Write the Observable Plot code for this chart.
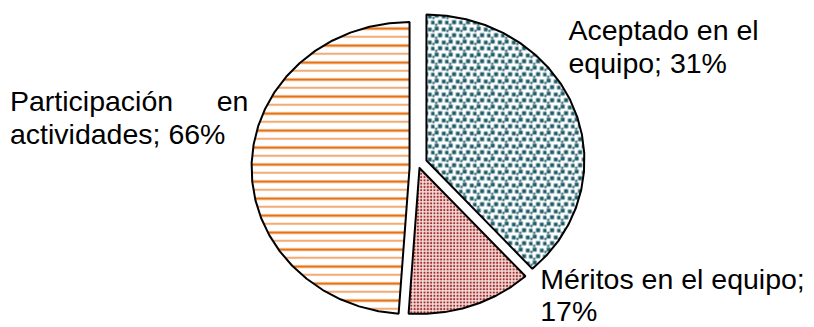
<!DOCTYPE html>
<html>
<head>
<meta charset="utf-8">
<script src="https://cdn.jsdelivr.net/npm/d3@7"></script>
<script src="https://cdn.jsdelivr.net/npm/@observablehq/plot@0.6"></script>
<style>
html, body { margin: 0; padding: 0; background: #fff; }
#chart svg { display: block; }
</style>
</head>
<body>
<div id="chart"></div>
<script>
// ---- data ----
const categories = ["Aceptado en el equipo", "Méritos en el equipo", "Participación en actividades"];
const labelPercents = [31, 17, 66];          // percentages printed in the labels
const sliceShares = [38.3, 12.8, 48.9];      // slice sizes as drawn (angle share)
const firstLineWords = [3, 4, 2];            // words on the first label line

// ---- layout / style ----
const W = 814, H = 327;
const cx = 419, cy = 167.5, rx = 158, ry = 146;          // pie centre and radii (px)
const explode = [[0.044, 0.051], [0, 0], [-0.063, 0]];   // per-slice offset, radius units
const labelAnchor = [[0.943, 0.654], [0.764, -1.051], [-2.592, 0.166]]; // radius units
const justifyWidth = [null, null, 238.5];
const fills = ["url(#pat-acept)", "url(#pat-meritos)", "url(#pat-partic)"];

const arcs = d3.pie().sort(null).value(d => d)(sliceShares);
const step = Math.PI / 24;
const outline = [];
arcs.forEach((a, i) => {
  const [ox, oy] = explode[i];
  const n = Math.max(2, Math.ceil((a.endAngle - a.startAngle) / step));
  outline.push({slice: i, x: ox, y: oy});
  for (let k = 0; k <= n; k++) {
    const t = a.startAngle + (a.endAngle - a.startAngle) * k / n;
    outline.push({slice: i, x: ox + Math.sin(t), y: oy + Math.cos(t)});
  }
  outline.push({slice: i, x: ox, y: oy});
});

const labels = categories.map((name, i) => {
  const words = `${name}; ${labelPercents[i]}%`.split(" ");
  const k = firstLineWords[i];
  return {
    x: labelAnchor[i][0], y: labelAnchor[i][1],
    text: words.slice(0, k).join(" ") + "\n" + words.slice(k).join(" ")
  };
});

const chart = Plot.plot({
  width: W, height: H, margin: 0,
  style: {background: "#fff"},
  x: {domain: [(0 - cx) / rx, (W - cx) / rx], range: [0, W], axis: null},
  y: {domain: [(cy - H) / ry, cy / ry], range: [H, 0], axis: null},
  marks: [
    ...arcs.map((a, i) => Plot.line(outline.filter(d => d.slice === i), {
      x: "x", y: "y", fill: fills[i], stroke: "#000", strokeWidth: 2,
      strokeLinejoin: "miter", curve: "linear"
    })),
    Plot.text(labels, {
      x: "x", y: "y", text: "text", textAnchor: "start", lineAnchor: "bottom",
      lineHeight: 1.14, fontSize: 28.5, fontFamily: "Liberation Sans, Arial, sans-serif",
      fill: "#000"
    })
  ]
});

const defs = document.createElementNS("http://www.w3.org/2000/svg", "defs");
defs.innerHTML = `
<pattern id="pat-acept" patternUnits="userSpaceOnUse" width="14" height="13">
  <rect width="14" height="13" fill="#fff"/>
  <g fill="#8fb2b9">
    <rect x="0" y="0" width="4.4" height="4.2"/>
    <rect x="7.2" y="0.9" width="4.2" height="4.2"/>
    <rect x="3.4" y="6.5" width="4.4" height="4.4"/>
    <rect x="10.4" y="7.1" width="4.0" height="4.0"/>
    <rect x="11.8" y="3.3" width="2.4" height="2.4"/>
    <rect x="0.5" y="10.2" width="2.4" height="2.4"/>
  </g>
  <g fill="#1e5a66">
    <rect x="0.4" y="0.4" width="3.6" height="3.4"/>
    <rect x="7.6" y="1.3" width="3.4" height="3.4"/>
    <rect x="3.8" y="6.9" width="3.6" height="3.6"/>
    <rect x="10.8" y="7.5" width="3.2" height="3.2"/>
    <rect x="12.1" y="3.6" width="1.8" height="1.8"/>
    <rect x="0.8" y="10.5" width="1.8" height="1.8"/>
  </g>
</pattern>
<pattern id="pat-meritos" patternUnits="userSpaceOnUse" width="3.3" height="3.3">
  <rect width="3.3" height="3.3" fill="#f7e3e2"/>
  <rect x="0.6" y="0.6" width="2.0" height="2.0" fill="#a02c29"/>
</pattern>
<pattern id="pat-partic" patternUnits="userSpaceOnUse" width="10" height="17">
  <rect width="10" height="17" fill="#fff"/>
  <rect x="0" y="9.6" width="10" height="3.0" fill="#f8cfae"/>
  <rect x="0" y="10.1" width="10" height="2.0" fill="#e46c0a"/>
  <rect x="0" y="1.4" width="10" height="1.8" fill="#fadcc4"/>
  <rect x="0" y="1.8" width="10" height="1.0" fill="#e8741a"/>
</pattern>`;
chart.insertBefore(defs, chart.firstChild);
document.getElementById("chart").appendChild(chart);

// justify the first line of labels that are justified in the original
chart.querySelectorAll("text tspan").forEach(ts => {
  labels.forEach((l, i) => {
    if (justifyWidth[i] && ts.textContent === l.text.split("\n")[0]) {
      const len = ts.getComputedTextLength();
      const spaces = (ts.textContent.match(/ /g) || []).length;
      if (spaces) ts.style.wordSpacing = ((justifyWidth[i] - len) / spaces) + "px";
    }
  });
});
</script>
</body>
</html>
